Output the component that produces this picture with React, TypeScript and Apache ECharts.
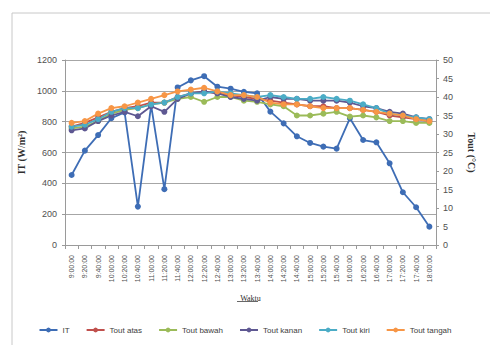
import React, { useEffect, useRef } from "react";
import * as echarts from "echarts";

const timeLabels = [
  "9:00:00", "9:20:00", "9:40:00", "10:00:00", "10:20:00", "10:40:00", "11:00:00",
  "11:20:00", "11:40:00", "12:00:00", "12:20:00", "12:40:00", "13:00:00", "13:20:00",
  "13:40:00", "14:00:00", "14:20:00", "14:40:00", "15:00:00", "15:20:00", "15:40:00",
  "16:00:00", "16:20:00", "16:40:00", "17:00:00", "17:20:00", "17:40:00", "18:00:00",
];

const irradiance = [
  454, 612, 713, 822, 860, 249, 905, 362, 1022, 1068, 1095, 1027, 1014, 994,
  984, 865, 789, 705, 662, 638, 625, 822, 681, 666, 530, 342, 245, 119,
];

const toutAtas = [
  32, 33, 34.5, 36, 37, 37.5, 38.5, 38.5, 40, 41, 41.5, 41, 40.5, 40,
  39.5, 39, 38.5, 38, 37.5, 37.5, 37, 37, 36.5, 36, 35, 34.5, 34, 33.5,
];
const toutBawah = [
  31.5, 32, 33.5, 35.5, 36.5, 37, 38, 38.5, 39.5, 40, 38.7, 40, 40, 39,
  38.7, 38, 37.5, 35, 35, 35.5, 36, 34.7, 35, 34.5, 33.5, 33.5, 33, 33,
];
const toutKanan = [
  31, 31.5, 33.5, 35, 36, 34.8, 37.5, 36, 39.5, 41, 41.5, 41, 40, 39.5,
  39, 40, 39.5, 39.5, 39, 39, 39, 38.5, 37.5, 37, 36, 35.5, 34.5, 34,
];
const toutKiri = [
  32, 32.5, 34, 36, 37, 37, 38, 38.5, 40, 41, 41, 41.5, 41, 40.5,
  40, 40.5, 40, 39.5, 39.5, 40, 39.5, 39, 38, 37, 35.5, 35, 34.5, 34,
];
const toutTangah = [
  33, 33.5, 35.5, 37, 37.5, 38.5, 39.5, 40.5, 41.5, 42, 42.5, 41.5, 40.5, 40.5,
  40, 38.5, 38, 38, 37.5, 37, 37, 37, 36.5, 36, 35.5, 35, 34, 33.5,
];

const seriesDefs = [
  { name: "IT", data: irradiance, color: "#3E6DB5", axis: 0 },
  { name: "Tout atas", data: toutAtas, color: "#C0504D", axis: 1 },
  { name: "Tout bawah", data: toutBawah, color: "#9BBB59", axis: 1 },
  { name: "Tout kanan", data: toutKanan, color: "#5E5892", axis: 1 },
  { name: "Tout kiri", data: toutKiri, color: "#4BACC6", axis: 1 },
  { name: "Tout tangah", data: toutTangah, color: "#F79646", axis: 1 },
];

const FONT = "Liberation Sans";
const SERIF = "Liberation Serif";

export default function App() {
  const ref = useRef<HTMLDivElement>(null);
  useEffect(() => {
    if (!ref.current) return;
    const chart = echarts.init(ref.current, null, { renderer: "svg" });
    chart.setOption({
      animation: false,
      backgroundColor: "#ffffff",
      grid: { left: 65, right: 54, top: 60, bottom: 100, containLabel: false },
      legend: {
        top: 321,
        left: "center",
        itemWidth: 18,
        itemHeight: 6,
        itemGap: 16,
        textStyle: { fontFamily: FONT, fontSize: 8, color: "#404040" },
        data: seriesDefs.map((s) => s.name),
      },
      graphic: [
        {
          type: "rect",
          shape: { x: 12, y: 13, width: 500, height: 360 },
          style: { fill: "none", stroke: "#c8c8c8", lineWidth: 1 },
          silent: true,
        },
        {
          type: "line",
          shape: { x1: 237, y1: 301.5, x2: 258, y2: 301.5 },
          style: { stroke: "#404040", lineWidth: 0.8 },
          silent: true,
        },
      ],
      xAxis: {
        type: "category",
        data: timeLabels,
        boundaryGap: true,
        name: "Waktu",
        nameLocation: "middle",
        nameGap: 49,
        nameTextStyle: { fontFamily: SERIF, fontSize: 8, color: "#303030" },
        axisLine: { lineStyle: { color: "#9a9a9a" } },
        axisTick: { show: true, length: 4, lineStyle: { color: "#9a9a9a" } },
        axisLabel: {
          rotate: 90,
          interval: 0,
          fontFamily: FONT,
          fontSize: 7,
          color: "#505050",
          margin: 10,
        },
      },
      yAxis: [
        {
          type: "value",
          min: 0,
          max: 1200,
          interval: 200,
          position: "left",
          name: "IT (W/m²)",
          nameLocation: "middle",
          nameGap: 27,
          nameRotate: 90,
          nameTextStyle: { fontFamily: SERIF, fontSize: 10, fontWeight: "bold", color: "#303030" },
          axisLine: { show: true, lineStyle: { color: "#9a9a9a" } },
          axisTick: { show: true, length: 3, lineStyle: { color: "#9a9a9a" } },
          axisLabel: {
            fontFamily: FONT,
            fontSize: 9,
            color: "#505050",
            margin: 8,
            formatter: (v: number) => String(v),
          },
          splitLine: { show: true, lineStyle: { color: "#a6a6a6", width: 1 } },
        },
        {
          type: "value",
          min: 0,
          max: 50,
          interval: 5,
          position: "right",
          name: "Tout (°C)",
          nameLocation: "middle",
          nameGap: 30,
          nameRotate: -90,
          nameTextStyle: { fontFamily: SERIF, fontSize: 10, fontWeight: "bold", color: "#303030" },
          axisLine: { show: true, lineStyle: { color: "#9a9a9a" } },
          axisTick: { show: true, length: 3, lineStyle: { color: "#9a9a9a" } },
          axisLabel: {
            fontFamily: FONT,
            fontSize: 9,
            color: "#505050",
            margin: 7,
            formatter: (v: number) => String(v),
          },
          splitLine: { show: false },
        },
      ],
      series: seriesDefs.map((s) => ({
        name: s.name,
        type: "line",
        yAxisIndex: s.axis,
        data: s.data,
        symbol: "circle",
        symbolSize: 6,
        lineStyle: { width: 1.8, color: s.color },
        itemStyle: { color: s.color },
      })),
    });
    return () => chart.dispose();
  }, []);
  return (
    <div
      ref={ref}
      style={{ position: "fixed", left: 0, top: 0, width: 490, height: 345, background: "#fff" }}
    />
  );
}
